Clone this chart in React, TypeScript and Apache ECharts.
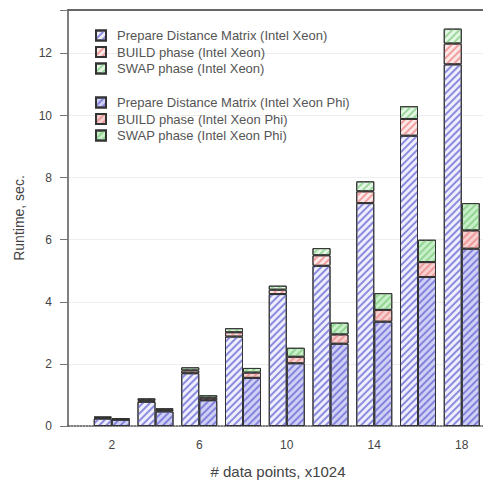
import React, { useEffect, useRef } from "react";
import * as echarts from "echarts";

const points = [2, 4, 6, 8, 10, 12, 14, 16, 18];
const xeonPrepare = [0.24, 0.78, 1.7, 2.88, 4.25, 5.16, 7.18, 9.35, 11.65];
const xeonBuild = [0.03, 0.05, 0.09, 0.14, 0.14, 0.34, 0.38, 0.54, 0.67];
const xeonSwap = [0.03, 0.06, 0.1, 0.13, 0.13, 0.23, 0.32, 0.41, 0.48];
const phiPrepare = [0.2, 0.47, 0.83, 1.55, 2.02, 2.65, 3.36, 4.8, 5.71];
const phiBuild = [0.025, 0.05, 0.08, 0.17, 0.21, 0.3, 0.38, 0.48, 0.59];
const phiSwap = [0.025, 0.05, 0.08, 0.15, 0.29, 0.38, 0.54, 0.72, 0.88];
const yTicks = [0, 2, 4, 6, 8, 10, 12];
const xTicks = [2, 6, 10, 14, 18];

const names = [
  "Prepare Distance Matrix (Intel Xeon)",
  "BUILD phase (Intel Xeon)",
  "SWAP phase (Intel Xeon)",
  "Prepare Distance Matrix (Intel Xeon Phi)",
  "BUILD phase (Intel Xeon Phi)",
  "SWAP phase (Intel Xeon Phi)",
];

const font = "Liberation Sans, Arial, sans-serif";

function hatch(color: string) {
  return {
    symbol: "rect",
    symbolSize: 1,
    color,
    dashArrayX: [1, 0],
    dashArrayY: [1.3, 2.8],
    rotation: -Math.PI / 4,
  };
}

function mk(
  name: string,
  stack: string,
  vals: number[],
  fill: string,
  stripe: string
) {
  return {
    name,
    type: "bar",
    stack,
    barWidth: 18,
    barGap: "0%",
    // value first so that stacking happens on the y dimension
    data: points.map((p, i) => [vals[i], p]),
    encode: { x: 1, y: 0 },
    itemStyle: {
      color: fill,
      borderColor: "#333",
      borderWidth: 1,
      decal: hatch(stripe),
    },
  };
}

export default function App() {
  const ref = useRef<HTMLDivElement>(null);
  useEffect(() => {
    if (!ref.current) return;
    const chart = echarts.init(ref.current, undefined, { renderer: "svg" });
    const legendText = {
      fontFamily: font,
      fontSize: 13,
      lineHeight: 12,
      color: "#555",
      padding: [0, 0, 0, 6],
    };
    const legendBase = {
      orient: "vertical",
      left: 90,
      itemWidth: 10,
      itemHeight: 10,
      itemGap: 3.5,
      icon: "rect",
      textStyle: legendText,
    };
    chart.setOption({
      animation: false,
      backgroundColor: "#fff",
      grid: { left: 68, right: 0, top: 10, bottom: 67 },
      legend: [
        { ...legendBase, data: names.slice(0, 3), top: 24 },
        { ...legendBase, data: names.slice(3), top: 91 },
      ],
      xAxis: [
        {
          type: "value",
          min: 0,
          max: 19.2,
          interval: 2,
          name: "# data points, x1024",
          nameLocation: "middle",
          nameGap: 38,
          nameTextStyle: { fontFamily: font, fontSize: 15, color: "#444" },
          axisLine: { show: true, lineStyle: { color: "#555", type: "dotted", width: 1.5 } },
          axisTick: { show: false },
          splitLine: { show: false },
          axisLabel: {
            margin: 13,
            fontFamily: font,
            fontSize: 12,
            color: "#444",
            formatter: (v: number) => (xTicks.includes(v) ? String(v) : ""),
          },
        },
        {
          type: "value",
          position: "top",
          min: 0,
          max: 19.2,
          axisLine: { show: true, lineStyle: { color: "#666", width: 2 } },
          axisTick: { show: false },
          axisLabel: { show: false },
          splitLine: { show: false },
        },
      ],
      yAxis: {
        type: "value",
        min: 0,
        max: 13.4,
        interval: 2,
        name: "Runtime, sec.",
        nameLocation: "middle",
        nameGap: 42,
        nameTextStyle: { fontFamily: font, fontSize: 14, color: "#444" },
        axisLine: { show: true, lineStyle: { color: "#555", width: 1.5 } },
        axisTick: {
          show: true,
          length: 8,
          lineStyle: { color: "#777" },
        },
        splitLine: { show: true, lineStyle: { color: "#eee" } },
        axisLabel: {
          margin: 16,
          fontFamily: font,
          fontSize: 12,
          color: "#444",
          formatter: (v: number) => (yTicks.includes(v) ? String(v) : ""),
        },
      },
      series: [
        mk(names[0], "xeon", xeonPrepare, "#eeeefc", "#8c8cdf"),
        mk(names[1], "xeon", xeonBuild, "#fde8e8", "#f0a0a0"),
        mk(names[2], "xeon", xeonSwap, "#e4f7e4", "#9ed89e"),
        mk(names[3], "phi", phiPrepare, "#d0d0f6", "#8484dc"),
        mk(names[4], "phi", phiBuild, "#f9d0d0", "#ec9c9c"),
        mk(names[5], "phi", phiSwap, "#c8f0c8", "#94d494"),
      ],
    });
    return () => chart.dispose();
  }, []);
  return <div ref={ref} style={{ width: 491, height: 493, margin: -8 }} />;
}
